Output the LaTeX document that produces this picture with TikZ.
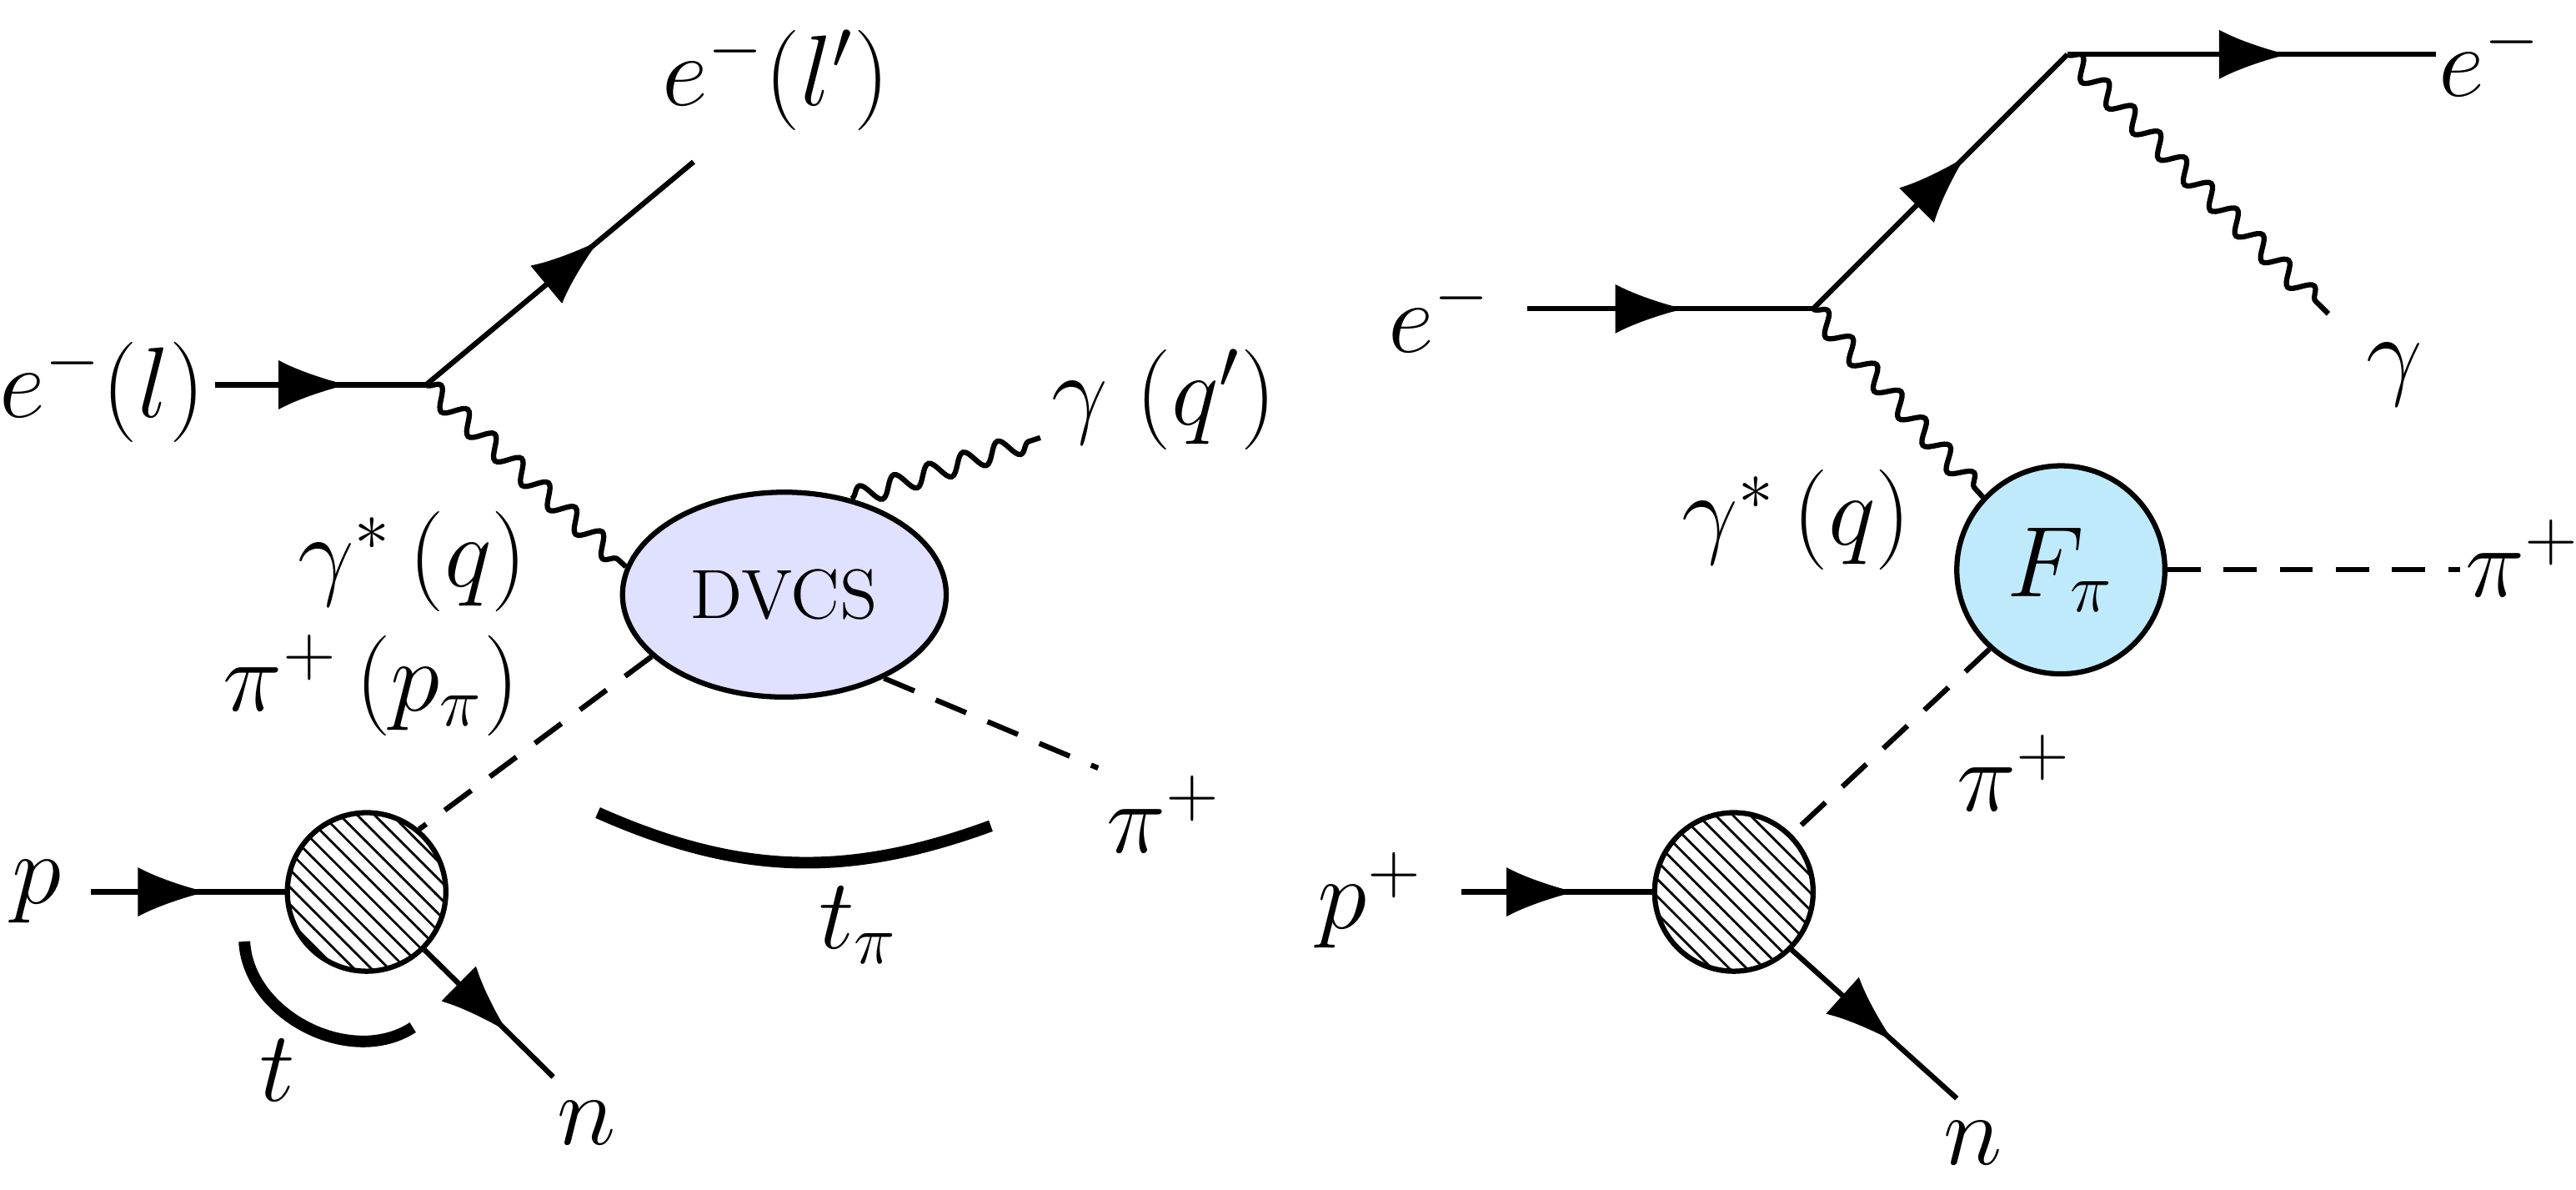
\documentclass[tikz,border=0pt]{standalone}
\usepackage{amsfonts,amsmath}
\usetikzlibrary{shapes,arrows,arrows.meta,positioning,decorations.pathmorphing,decorations.markings,patterns}

\tikzset{
fermion/.style={postaction={decorate},decoration={markings,
  mark=at position #1 with {\arrow{Latex[length=0.42cm,width=0.3cm]}}}},
fermion/.default=0.6,
photon/.style={decorate,decoration={snake,amplitude=0.06cm,segment length=0.22cm}},
scalar/.style={dashed,dash pattern=on 0.2cm off 0.14cm},
blob/.style={circle, draw, minimum size=0.96cm, pattern=north west lines, line width=0.9pt},
lbl/.style={font=\LARGE}
}

\begin{document}
\begin{tikzpicture}[line width = 0.9 pt]
\useasboundingbox (0,0) rectangle (15.6,7.2);

% left: DVCS
\coordinate (inL) at (1.30,4.87);
\coordinate (vL) at (2.58,4.87);
\coordinate (outL) at (4.20,6.22);
\node [lbl] (eL) at (0.62,4.83) {$e^-(l)$};
\node [lbl] (eLp) at (4.70,6.72) {$e^-(l')$};
\draw [fermion=0.63] (inL) -- (vL);
\draw [fermion=0.65] (vL) -- (outL);

\node [ellipse, draw, fill=blue!12, minimum width=1.96cm, minimum height=1.24cm,
  font=\large] (dvcs) at (4.75,3.60) {DVCS};
\draw [photon] (vL) -- (dvcs.170);
\node [lbl] (gsL) at (2.50,3.80) {$\gamma^*\,(q)$};
\coordinate (gout) at (6.30,4.55);
\draw [photon] (dvcs.55) -- (gout);
\node [lbl] (gL) at (7.05,4.78) {$\gamma\;(q')$};

\node [blob] (blobL) at (2.22,1.80) {};
\draw [scalar] (dvcs.205) -- (blobL.50);
\node [lbl] (piL) at (2.25,3.05) {$\pi^+\,(p_\pi)$};
\coordinate (piout) at (6.65,2.55);
\draw [scalar] (dvcs.-40) -- (piout);
\node [lbl] (piL2) at (7.05,2.27) {$\pi^+$};

\coordinate (pin) at (0.55,1.80);
\node [lbl] (pL) at (0.22,1.80) {$p$};
\draw [fermion=0.6] (pin) -- (blobL.west);
\coordinate (nout) at (3.35,0.68);
\draw [fermion=0.65] (blobL.-45) -- (nout);
\node [lbl] (nL) at (3.55,0.40) {$n$};

\coordinate (tpa) at (3.62,2.28);
\coordinate (tpb) at (6.00,2.20);
\draw [line width=2pt] (tpa) to [bend right=22] (tpb);
\node [lbl] (tpi) at (5.20,1.60) {$t_\pi$};
\coordinate (ta) at (1.48,1.50);
\coordinate (tb) at (2.50,0.98);
\draw [line width=2pt] (ta) to [bend right=60] (tb);
\node [lbl] (tL) at (1.68,0.72) {$t$};

% right: form factor
\coordinate (inR) at (9.25,5.33);
\coordinate (vR1) at (10.98,5.33);
\coordinate (vR2) at (12.52,6.87);
\coordinate (outR) at (14.75,6.87);
\node [lbl] (eR) at (8.72,5.30) {$e^-$};
\node [lbl] (eRp) at (15.08,6.85) {$e^-$};
\draw [fermion=0.55] (inR) -- (vR1);
\draw [fermion=0.6] (vR1) -- (vR2);
\draw [fermion=0.6] (vR2) -- (outR);
\coordinate (gR) at (14.10,5.30);
\draw [photon] (vR2) -- (gR);
\node [lbl] (gRl) at (14.50,4.93) {$\gamma$};

\node [circle, draw, fill=cyan!25, minimum size=1.26cm, font=\LARGE] (fpi) at (12.48,3.75) {$F_\pi$};
\draw [photon] (vR1) -- (fpi.137);
\node [lbl] (gsR) at (10.88,4.05) {$\gamma^*\,(q)$};
\coordinate (piR) at (14.90,3.75);
\draw [scalar] (fpi.east) -- (piR);
\node [lbl] (piRl) at (15.28,3.82) {$\pi^+$};

\node [blob] (blobR) at (10.50,1.80) {};
\draw [scalar] (fpi.228) -- (blobR.45);
\node [lbl] (piR2) at (12.20,2.52) {$\pi^+$};
\coordinate (pinR) at (8.85,1.80);
\node [lbl] (pR) at (8.30,1.75) {$p^+$};
\draw [fermion=0.6] (pinR) -- (blobR.west);
\coordinate (noutR) at (11.85,0.55);
\draw [fermion=0.62] (blobR.-45) -- (noutR);
\node [lbl] (nR) at (11.95,0.28) {$n$};

\end{tikzpicture}
\end{document}
